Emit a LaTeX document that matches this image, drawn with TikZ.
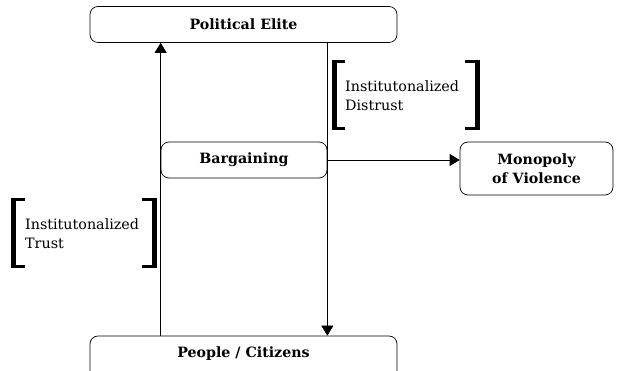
\documentclass[tikz,border=0pt]{standalone}
\usepackage{fontspec}
\setmainfont{DejaVu Serif}
\usetikzlibrary{arrows.meta}
\begin{document}
\begin{tikzpicture}[x=1pt,y=-1pt,
  boxnode/.style={draw,rounded corners=8pt,line width=0.7pt,font=\bfseries\fontsize{14.2}{19}\selectfont,inner sep=0pt,align=center},
  lbl/.style={font=\fontsize{14.3}{19}\selectfont,align=left,inner sep=0pt,anchor=west},
  arr/.style={line width=0.7pt,-{Triangle[width=12pt,length=10pt]}},
  brk/.style={line width=5pt},
  brkarm/.style={line width=3pt}]
\clip (0,0) rectangle (622,371);
\useasboundingbox (0,0) rectangle (622,371);
\node[boxnode,minimum width=307pt,minimum height=36pt] (elite) at (243.5,24.5) {Political Elite};
\node[boxnode,minimum width=166pt,minimum height=36pt] (bar) at (244,160) {Bargaining};
\node[boxnode,minimum width=153pt,minimum height=53pt] (mono) at (536.5,168.5) {Monopoly\\of Violence};
\node[boxnode,minimum width=307pt,minimum height=44pt,text depth=0pt] (people) at (243.5,358) {};
\node[font=\bfseries\fontsize{14.2}{19}\selectfont,inner sep=0pt] (peoplelbl) at (243.5,354) {People / Citizens};
\draw[arr] (people.north -| bar.west) -- (elite.south -| bar.west);
\draw[arr] (elite.south -| bar.east) -- (people.north -| bar.east);
\draw[arr] (bar.east) -- (bar.east -| mono.west);
% Distrust bracket
\node[lbl] (dist) at (345,96) {Institutonalized\\Distrust};
\draw[brk] (334.5,60) -- (334.5,130);
\draw[brkarm] (332,61.5) -- (345,61.5) (332,128.5) -- (345,128.5);
\draw[brk] (477,60) -- (477,130);
\draw[brkarm] (479.5,61.5) -- (465,61.5) (479.5,128.5) -- (465,128.5);
% Trust bracket
\node[lbl] (trust) at (25,234) {Institutonalized\\Trust};
\draw[brk] (13.5,198) -- (13.5,268);
\draw[brkarm] (11,199.5) -- (25,199.5) (11,266.5) -- (25,266.5);
\draw[brk] (154,198) -- (154,268);
\draw[brkarm] (156.5,199.5) -- (142,199.5) (156.5,266.5) -- (142,266.5);
\end{tikzpicture}
\end{document}
